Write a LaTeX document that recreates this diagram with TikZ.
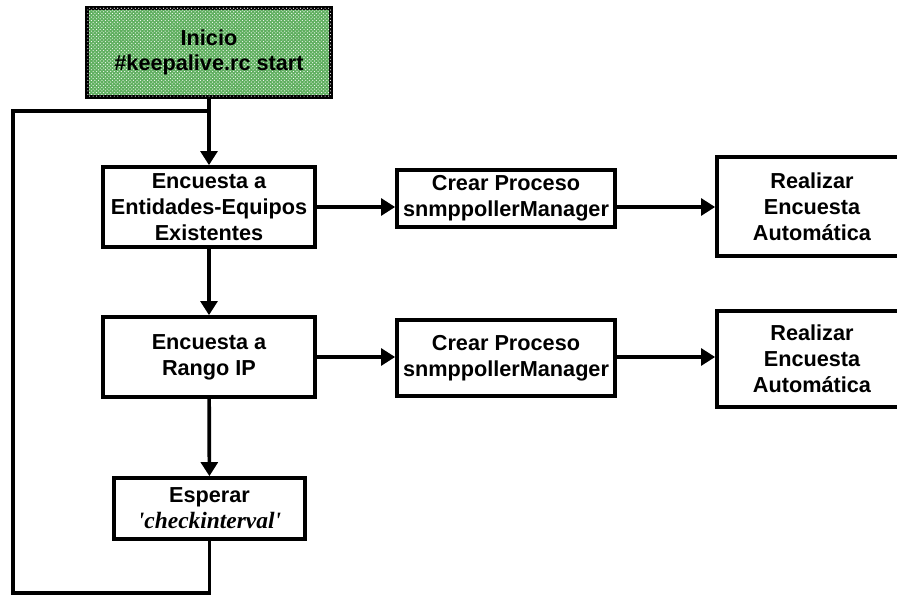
\documentclass[tikz,border=0pt]{standalone}
\usepackage{fontspec}
\setmainfont{Liberation Sans}
\newfontfamily\serifit{Liberation Serif}
\usetikzlibrary{arrows.meta,patterns}
\definecolor{startgreen}{RGB}{95,175,95}

\begin{document}
\begin{tikzpicture}[x=0.03cm, y=-0.03cm, line width=0.11cm,
    box/.style={draw, align=center, inner sep=0pt, font=\fontsize{18.5}{22}\selectfont\bfseries},
    flow/.style={-{Triangle[width=0.5cm,length=0.42cm]}}]
              \useasboundingbox (0, 0) rectangle (897, 597);
              \clip (0, 0) rectangle (897, 597);
              % boxes
              \node[box, fill=startgreen, postaction={pattern=crosshatch dots, pattern color=white},
                    minimum width=7.32cm, minimum height=2.67cm] (start) at (209, 52.5)
                    {Inicio\\\#keepalive.rc start};
              \node[box, minimum width=6.36cm, minimum height=2.4cm] (enc1) at (209, 207)
                    {Encuesta a\\Entidades-Equipos\\Existentes};
              \node[box, minimum width=6.54cm, minimum height=1.71cm] (crear1) at (506, 198.5)
                    {Crear Proceso\\snmppollerManager};
              \node[box, minimum width=5.7cm, minimum height=2.97cm] (real1) at (812, 206.5)
                    {Realizar\\Encuesta\\Autom\'atica};
              \node[box, minimum width=6.36cm, minimum height=2.4cm] (enc2) at (209, 357)
                    {Encuesta a\\Rango IP};
              \node[box, minimum width=6.54cm, minimum height=2.28cm] (crear2) at (506, 358)
                    {Crear Proceso\\snmppollerManager};
              \node[box, minimum width=5.7cm, minimum height=2.88cm] (real2) at (812, 359)
                    {Realizar\\Encuesta\\Autom\'atica};
              \node[box, minimum width=5.73cm, minimum height=1.83cm] (wait) at (209.5, 508.5)
                    {Esperar\\{\serifit\fontsize{20}{22}\selectfont\bfseries\itshape 'checkinterval'}};
              % connectors
              \draw[flow] (start) -- (enc1);
              \draw[flow] (enc1) -- (enc2);
              \draw[flow] (enc2) -- (wait);
              \draw[flow] (enc1.east) -- (enc1.east -| crear1.west);
              \draw[flow] (crear1.east |- enc1.east) -- (real1.west |- enc1.east);
              \draw[flow] (enc2.east) -- (enc2.east -| crear2.west);
              \draw[flow] (crear2.east |- enc2.east) -- (real2.west |- enc2.east);
              % loop back
              \coordinate (loopbot) at (13, 593);
              \coordinate (looptop) at (13, 111);
              \draw (wait.south) -- (wait.south |- loopbot) -- (loopbot) -- (looptop) -- (looptop -| start.south);
            \end{tikzpicture}
\end{document}
